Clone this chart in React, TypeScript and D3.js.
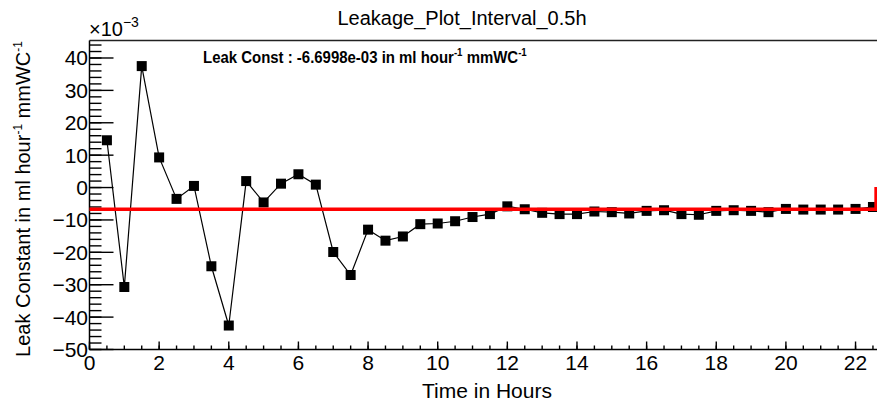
import React from "react";
import * as d3 from "d3";

const hours = [0.5, 1, 1.5, 2, 2.5, 3, 3.5, 4, 4.5, 5, 5.5, 6, 6.5, 7, 7.5, 8, 8.5, 9, 9.5, 10, 10.5, 11, 11.5, 12, 12.5, 13, 13.5, 14, 14.5, 15, 15.5, 16, 16.5, 17, 17.5, 18, 18.5, 19, 19.5, 20, 20.5, 21, 21.5, 22, 22.5];
const leak = [14.6, -30.7, 37.5, 9.3, -3.5, 0.5, -24.3, -42.6, 2.0, -4.6, 1.2, 4.1, 0.9, -19.9, -27.0, -13.0, -16.4, -15.1, -11.3, -11.1, -10.4, -9.1, -8.2, -5.8, -6.7, -7.8, -8.2, -8.2, -7.4, -7.6, -8.0, -7.2, -7.0, -8.2, -8.4, -7.2, -7.0, -7.2, -7.6, -6.6, -6.8, -6.8, -6.8, -6.6, -6.0];
const fitConst = -6.6998;
const fitEnd = 22.59;
const fitSpike = 0.2;
const xTicks = [0, 2, 4, 6, 8, 10, 12, 14, 16, 18, 20, 22];
const yTicks = [-50, -40, -30, -20, -10, 0, 10, 20, 30, 40];
const xDomain = [0, 22.7];
const yDomain = [-50, 45.4];

const FONT = "'Liberation Sans Narrow', 'Liberation Sans', Arial, sans-serif";

export default function App() {
  const W = 877, H = 404;
  const left = 89.5, top = 40.5, bottom = 349.5;
  const x = d3.scaleLinear().domain(xDomain).range([left, left + 34.82 * xDomain[1]]);
  const y = d3.scaleLinear().domain(yDomain).range([bottom, top]);

  const xMinor = d3.range(0, 22.7, 0.5);
  const yMinor = d3.range(-50, 45.4, 2);

  const line = d3.line<number>().x((_, i) => x(hours[i])).y((d) => y(d));
  const fitPath = d3.line<[number, number]>().x((d) => x(d[0])).y((d) => y(d[1]))([
    [0, fitConst],
    [fitEnd, fitConst],
    [fitEnd, fitSpike],
  ]);

  const fmt = (v: number) => (v < 0 ? "\u2212" + Math.abs(v) : String(v));

  return (
    <svg width={W} height={H} style={{ position: "absolute", left: 0, top: 0, background: "#fff" }} fontFamily={FONT}>
      <rect width={W} height={H} fill="#fff" />
      {/* title */}
      <text x={462} y={25} textAnchor="middle" fontSize={20} fill="#000">Leakage_Plot_Interval_0.5h</text>

      {/* frame top */}
      <line x1={left} x2={W} y1={top} y2={top} stroke="#222" strokeWidth={1.6} />

      {/* y axis */}
      <line x1={left} x2={left} y1={top} y2={bottom} stroke="#000" strokeWidth={1.5} />
      {yMinor.map((v) => (
        <line key={"ym" + v} x1={left} x2={left + 12} y1={y(v)} y2={y(v)} stroke="#000" strokeWidth={1.4} />
      ))}
      {yTicks.map((v) => (
        <g key={"yt" + v}>
          <line x1={left} x2={left + 24} y1={y(v)} y2={y(v)} stroke="#000" strokeWidth={1.4} />
          <text x={88} y={y(v) + 7.5} textAnchor="end" fontSize={21} fill="#000">{fmt(v)}</text>
        </g>
      ))}
      <text x={89} y={36} fontSize={20} fill="#000">×10<tspan dy={-9} fontSize={14}>−3</tspan></text>

      {/* x axis */}
      <line x1={left} x2={W} y1={bottom} y2={bottom} stroke="#000" strokeWidth={1.5} />
      {xMinor.map((v) => (
        <line key={"xm" + v} x1={x(v)} x2={x(v)} y1={bottom} y2={bottom - 4} stroke="#000" strokeWidth={1.4} />
      ))}
      {xTicks.map((v) => (
        <g key={"xt" + v}>
          <line x1={x(v)} x2={x(v)} y1={bottom} y2={bottom - 8} stroke="#000" strokeWidth={1.4} />
          <text x={x(v)} y={370} textAnchor="middle" fontSize={21} fill="#000">{v}</text>
        </g>
      ))}
      <text x={487} y={398} textAnchor="middle" fontSize={21} fill="#000">Time in Hours</text>

      {/* y title */}
      <text transform={`translate(30, 199) rotate(-90)`} textAnchor="middle" fontSize={20} fill="#000">
        Leak Constant in ml hour<tspan dy={-8} fontSize={12}>-1</tspan><tspan dy={8}> mmWC</tspan><tspan dy={-8} fontSize={12}>-1</tspan>
      </text>

      {/* data line */}
      <path d={line(leak) || ""} fill="none" stroke="#000" strokeWidth={1.2} />
      {leak.map((v, i) => (
        <rect key={"m" + i} x={x(hours[i]) - 5} y={y(v) - 5} width={10} height={10} fill="#000" />
      ))}

      {/* fit */}
      <path d={fitPath || ""} fill="none" stroke="#ff0000" strokeWidth={3.5} />

      {/* stats text */}
      <text transform="translate(203, 63) scale(0.88, 1)" fontSize={17} fontWeight="bold" fill="#000">
        Leak Const : -6.6998e-03 in ml hour<tspan dy={-7} fontSize={11}>-1</tspan><tspan dy={7}> mmWC</tspan><tspan dy={-7} fontSize={11}>-1</tspan>
      </text>
    </svg>
  );
}
